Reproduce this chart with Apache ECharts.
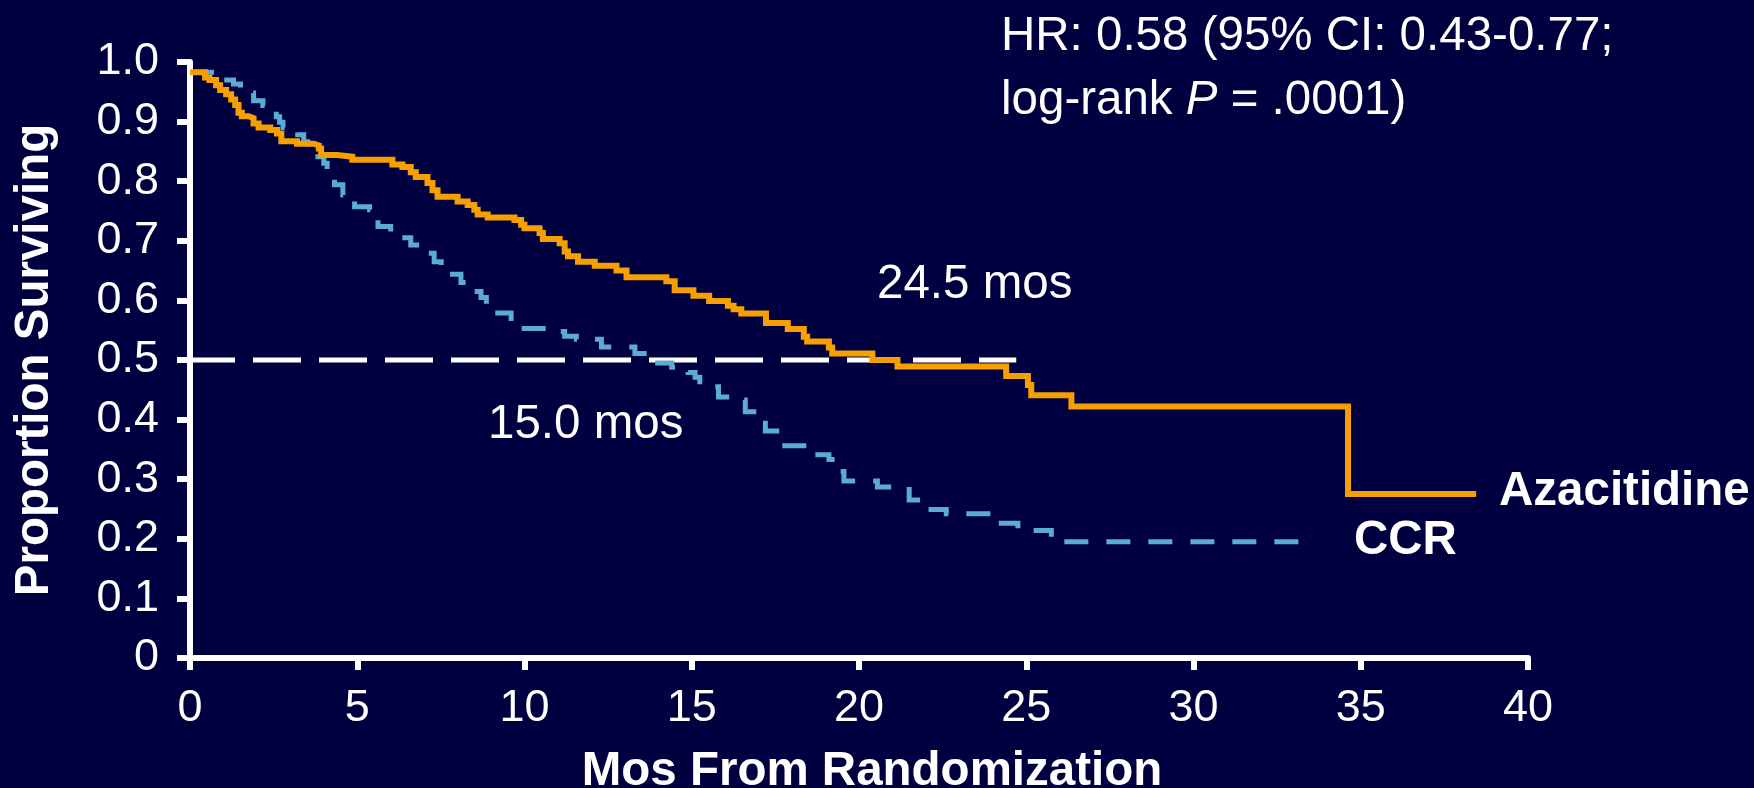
<!DOCTYPE html>
<html>
<head>
<meta charset="utf-8">
<script src="https://cdn.jsdelivr.net/npm/echarts@6/dist/echarts.min.js"></script>
<style>
html,body{margin:0;padding:0;background:#000040;}
#c{width:1754px;height:788px;}
</style>
</head>
<body>
<div id="c"></div>
<script>
const FONT = "'Liberation Sans', Arial, sans-serif";

const xTickLabels = ['0','5','10','15','20','25','30','35','40'];
const yTickLabels = ['0','0.1','0.2','0.3','0.4','0.5','0.6','0.7','0.8','0.9','1.0'];

// Kaplan-Meier steps: [month, proportion surviving from that month on]
const azacitidine = [
  [0,0.983],[0.45,0.974],[0.58,0.970],[0.78,0.961],[0.9,0.953],[1.08,0.946],[1.23,0.937],
  [1.35,0.928],[1.45,0.915],[1.55,0.909],[1.75,0.906],[1.9,0.897],[2.05,0.890],[2.4,0.886],
  [2.6,0.880],[2.73,0.867],[3.2,0.863],[3.7,0.860],[3.85,0.855],[3.92,0.844],[4.4,0.841],
  [4.85,0.836],[6.05,0.828],[6.35,0.824],[6.6,0.815],[6.75,0.807],[7.1,0.797],[7.25,0.785],
  [7.4,0.774],[8.0,0.766],[8.3,0.760],[8.5,0.752],[8.6,0.744],[8.9,0.739],[9.7,0.735],
  [9.9,0.727],[10.0,0.721],[10.45,0.713],[10.55,0.703],[11.05,0.696],[11.2,0.682],[11.3,0.674],
  [11.6,0.665],[12.1,0.658],[12.75,0.650],[13.05,0.639],[14.24,0.632],[14.49,0.617],[15.05,0.608],
  [15.52,0.599],[16.08,0.591],[16.25,0.585],[16.48,0.578],[17.22,0.562],[17.87,0.552],[18.35,0.539],
  [18.45,0.531],[19.1,0.521],[19.2,0.511],[20.4,0.500],[21.15,0.489],[24.4,0.473],[25.05,0.458],
  [25.15,0.441],[26.35,0.422],[34.62,0.275],[38.45,0.275]
];
const ccr = [
  [0,0.983],[0.93,0.970],[1.3,0.963],[1.51,0.948],[1.9,0.935],[2.18,0.927],[2.43,0.917],
  [2.58,0.908],[2.68,0.899],[2.78,0.890],[3.22,0.878],[3.4,0.866],[3.52,0.858],[3.6,0.841],
  [4.0,0.830],[4.1,0.820],[4.32,0.794],[4.57,0.777],[4.75,0.767],[4.92,0.757],[5.37,0.752],
  [5.45,0.735],[5.62,0.724],[6.0,0.713],[6.27,0.705],[6.6,0.693],[6.86,0.679],[7.3,0.665],
  [7.51,0.658],[7.6,0.644],[8.1,0.630],[8.26,0.620],[8.51,0.615],[8.7,0.605],[8.86,0.594],
  [9.2,0.579],[9.6,0.562],[9.75,0.553],[10.8,0.548],[11.2,0.540],[11.55,0.535],[12.3,0.522],
  [13.3,0.511],[13.9,0.495],[14.4,0.488],[14.54,0.484],[14.89,0.479],[15.1,0.471],[15.24,0.455],
  [15.8,0.438],[16.18,0.433],[16.6,0.413],[16.98,0.394],[17.2,0.381],[17.63,0.356],[18.64,0.341],
  [19.1,0.333],[19.42,0.313],[19.55,0.297],[20.55,0.287],[21.5,0.265],[21.93,0.249],[22.61,0.242],
  [24.16,0.226],[24.75,0.214],[25.75,0.195],[33.6,0.195]
];
const medianRef = [[0,0.5],[24.7,0.5]];

const annotations = [
  {text: 'HR: 0.58 (95% CI: 0.43-0.77;', x: 1001, y: 37, bold: false},
  {text: '{n|log-rank }{i|P}{n| = .0001)}', x: 1001, y: 101, bold: false, rich: true},
  {text: '24.5 mos', x: 877, y: 285, bold: false},
  {text: '15.0 mos', x: 488, y: 425, bold: false},
  {text: 'Azacitidine', x: 1499, y: 492, bold: true},
  {text: 'CCR', x: 1354, y: 541, bold: true}
];

const chart = echarts.init(document.getElementById('c'), null, {renderer: 'canvas'});

const axisLineStyle = {color: '#ffffff', width: 6};
const TXT = 47.5;

const option = {
  backgroundColor: '#000040',
  animation: false,
  grid: {left: 190, right: 226, top: 62, bottom: 130, containLabel: false, outerBoundsMode: 'none'},
  xAxis: {
    type: 'value', min: 0, max: 40, interval: 5,
    name: 'Mos From Randomization', nameLocation: 'middle', nameGap: 90,
    nameTextStyle: {color: '#ffffff', fontFamily: FONT, fontSize: TXT, fontWeight: 'bold', padding: [0, 0, 0, 26]},
    axisLine: {show: true, onZero: false, lineStyle: axisLineStyle},
    axisTick: {show: true, length: 12, lineStyle: {color: '#ffffff', width: 6}},
    axisLabel: {color: '#ffffff', fontFamily: FONT, fontSize: 45, margin: 28,
      formatter: (v, i) => xTickLabels[i]},
    splitLine: {show: false}
  },
  yAxis: {
    type: 'value', min: 0, max: 1, interval: 0.1,
    name: 'Proportion Surviving', nameLocation: 'middle', nameGap: 131,
    nameTextStyle: {color: '#ffffff', fontFamily: FONT, fontSize: TXT, fontWeight: 'bold'},
    axisLine: {show: true, onZero: false, lineStyle: axisLineStyle},
    axisTick: {show: true, length: 13, lineStyle: {color: '#ffffff', width: 6}},
    axisLabel: {color: '#ffffff', fontFamily: FONT, fontSize: 45, margin: 31,
      formatter: (v, i) => yTickLabels[i]},
    splitLine: {show: false}
  },
  series: [
    {
      name: 'Median', type: 'line', data: medianRef, showSymbol: false, silent: true, z: 1,
      lineStyle: {color: '#ffffff', width: 5, type: [48, 18], dashOffset: 3}
    },
    {
      name: 'CCR', type: 'line', step: 'end', data: ccr, showSymbol: false, z: 2,
      lineStyle: {color: '#5AACD2', width: 5, type: [24, 18], cap: 'butt', join: 'miter'}
    },
    {
      name: 'Azacitidine', type: 'line', step: 'end', data: azacitidine, showSymbol: false, z: 3,
      lineStyle: {color: '#F5A000', width: 6, join: 'miter'}
    }
  ],
  graphic: annotations.map(a => {
    const base = {fontFamily: FONT, fontSize: TXT, fontWeight: a.bold ? 'bold' : 'normal', fill: '#ffffff'};
    const style = Object.assign({}, base, {text: a.text, align: 'left', verticalAlign: 'middle'});
    if (a.rich) {
      style.rich = {
        n: {fontFamily: FONT, fontSize: TXT, color: '#ffffff'},
        i: {fontFamily: FONT, fontSize: TXT, color: '#ffffff', fontStyle: 'italic'}
      };
    }
    return {type: 'text', x: a.x, y: a.y, silent: true, style: style};
  })
};

chart.setOption(option);
</script>
</body>
</html>
